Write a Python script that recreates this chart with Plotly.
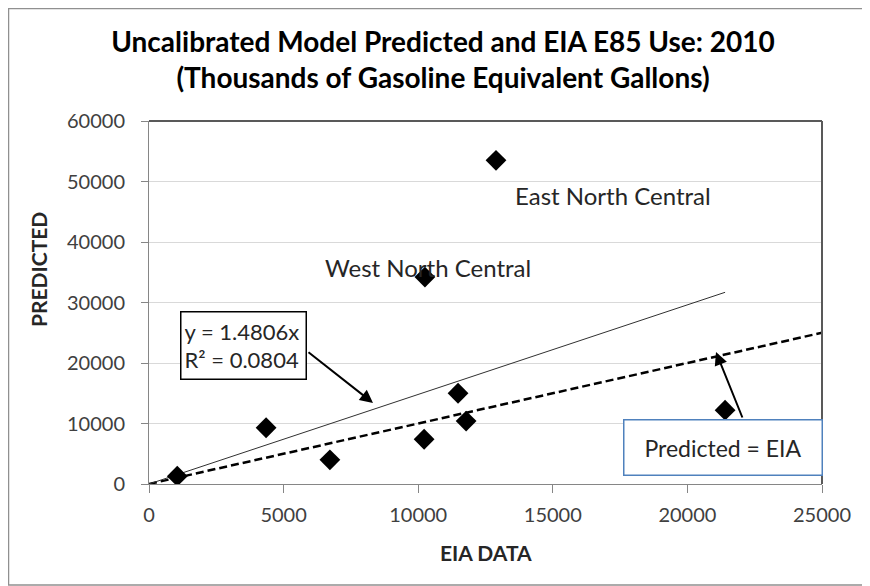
import plotly.graph_objects as go

# Data
eia_data = [1050, 4350, 6720, 10220, 10250, 11480, 11780, 12890, 21400]
predicted = [1300, 9300, 4000, 7400, 34200, 15000, 10400, 53500, 12200]
trend_slope = 1.4806
trend_r2 = 0.0804
x_ticks = [0, 5000, 10000, 15000, 20000, 25000]
y_ticks = [0, 10000, 20000, 30000, 40000, 50000, 60000]
x_tick_labels = [str(v) for v in x_ticks]
y_tick_labels = [str(v) for v in y_ticks]

FONT = "Lato"
TXT = "#404040"
DARK = "#262626"

# Page body has an 8px margin, so the figure is 8px smaller than the window.
W, H = 862, 578
ML, MR, MT, MB = 141, 48, 113, 102
PW, PH = W - ML - MR, H - MT - MB


def px_x(page_x):
    return (page_x - 8 - ML) / PW


def px_y(page_y):
    return (MT + PH - (page_y - 8)) / PH


fig = go.Figure()

# Predicted = EIA reference line (dashed)
fig.add_trace(go.Scatter(
    x=[0, x_ticks[-1]], y=[0, x_ticks[-1]], mode="lines",
    line=dict(color="black", width=2.5, dash="8px,4px"),
    hoverinfo="skip", showlegend=False))

# Linear trendline through origin
xmax = max(eia_data)
fig.add_trace(go.Scatter(
    x=[0, xmax], y=[0, trend_slope * xmax], mode="lines",
    line=dict(color="#303030", width=1),
    hoverinfo="skip", showlegend=False))

# Data points
fig.add_trace(go.Scatter(
    x=eia_data, y=predicted, mode="markers",
    marker=dict(symbol="diamond", size=16, color="black"),
    showlegend=False))

annotations = [
    dict(x=17236, y=47769, xref="x", yref="y", text="East North Central",
         showarrow=False, font=dict(family=FONT, size=24, color=DARK)),
    dict(x=10364, y=35868, xref="x", yref="y", text="West North Central",
         showarrow=False, font=dict(family=FONT, size=24, color=DARK)),
    # equation box
    dict(x=3510, y=22900, xref="x", yref="y",
         text=f"y = {trend_slope}x<br>R² = {trend_r2}",
         showarrow=False, align="left",
         font=dict(family=FONT, size=22, color=DARK),
         bgcolor="white", bordercolor="black", borderwidth=1.5, borderpad=3,
         width=118, height=60),
    # arrow from equation box to trendline
    dict(x=8321, y=13388, xref="x", yref="y", ax=5869, ay=21983,
         axref="x", ayref="y", text="", showarrow=True,
         arrowhead=2, arrowsize=1.3, arrowwidth=2, arrowcolor="black"),
    # Predicted = EIA box
    dict(x=21306, y=6116, xref="x", yref="y", text="Predicted = EIA",
         showarrow=False, font=dict(family=FONT, size=23, color=DARK),
         bgcolor="white", bordercolor="#4F81BD", borderwidth=1.5, borderpad=3,
         width=191, height=48),
    dict(x=21062, y=21818, xref="x", yref="y", ax=22065, ay=10744,
         axref="x", ayref="y", text="", showarrow=True,
         arrowhead=2, arrowsize=1.3, arrowwidth=2, arrowcolor="black"),
    # axis titles
    dict(x=px_x(486), y=px_y(552), xref="paper", yref="paper",
         xanchor="center", yanchor="middle",
         text="<b>EIA DATA</b>", showarrow=False,
         font=dict(family=FONT, size=21, color=DARK)),
    dict(x=px_x(38), y=px_y(270), xref="paper", yref="paper",
         xanchor="center", yanchor="middle",
         text="<b>PREDICTED</b>", showarrow=False, textangle=-90,
         font=dict(family=FONT, size=21, color=DARK)),
]

fig.update_layout(
    width=W, height=H,
    margin=dict(l=ML, r=MR, t=MT, b=MB),
    paper_bgcolor="white", plot_bgcolor="white",
    title=dict(
        text="Uncalibrated Model Predicted and EIA E85 Use: 2010<br>(Thousands of Gasoline Equivalent Gallons)",
        x=(443 - 8) / W, xanchor="center", y=1 - (52 - 8) / H, yanchor="middle",
        font=dict(family=FONT, size=28, color="black", weight="bold")),
    annotations=annotations,
    shapes=[
        dict(type="rect", xref="paper", yref="paper",
             x0=px_x(8.5), x1=px_x(866), y0=px_y(585), y1=px_y(8.5),
             line=dict(color="#909090", width=1.5), layer="below"),
        dict(type="line", xref="paper", yref="paper", x0=0, x1=1, y0=1, y1=1,
             line=dict(color="#595959", width=2)),
        dict(type="line", xref="paper", yref="paper", x0=1, x1=1, y0=0, y1=1,
             line=dict(color="#595959", width=2)),
    ],
    xaxis=dict(
        range=[0, 25000], tickvals=x_ticks, ticktext=x_tick_labels,
        showgrid=False, zeroline=False,
        showline=True, linecolor="#868686", linewidth=1,
        ticks="outside", ticklen=8, tickcolor="#868686",
        ticklabelstandoff=5,
        tickfont=dict(family=FONT, size=20, color=TXT)),
    yaxis=dict(
        range=[0, 60000], tickvals=y_ticks, ticktext=y_tick_labels,
        showgrid=True, gridcolor="#d9d9d9",
        zeroline=False, showline=True, linecolor="#868686", linewidth=1,
        ticks="outside", ticklen=7, tickcolor="#868686",
        ticklabelstandoff=12,
        tickfont=dict(family=FONT, size=20, color=TXT)),
)

fig.write_html("out.html")
